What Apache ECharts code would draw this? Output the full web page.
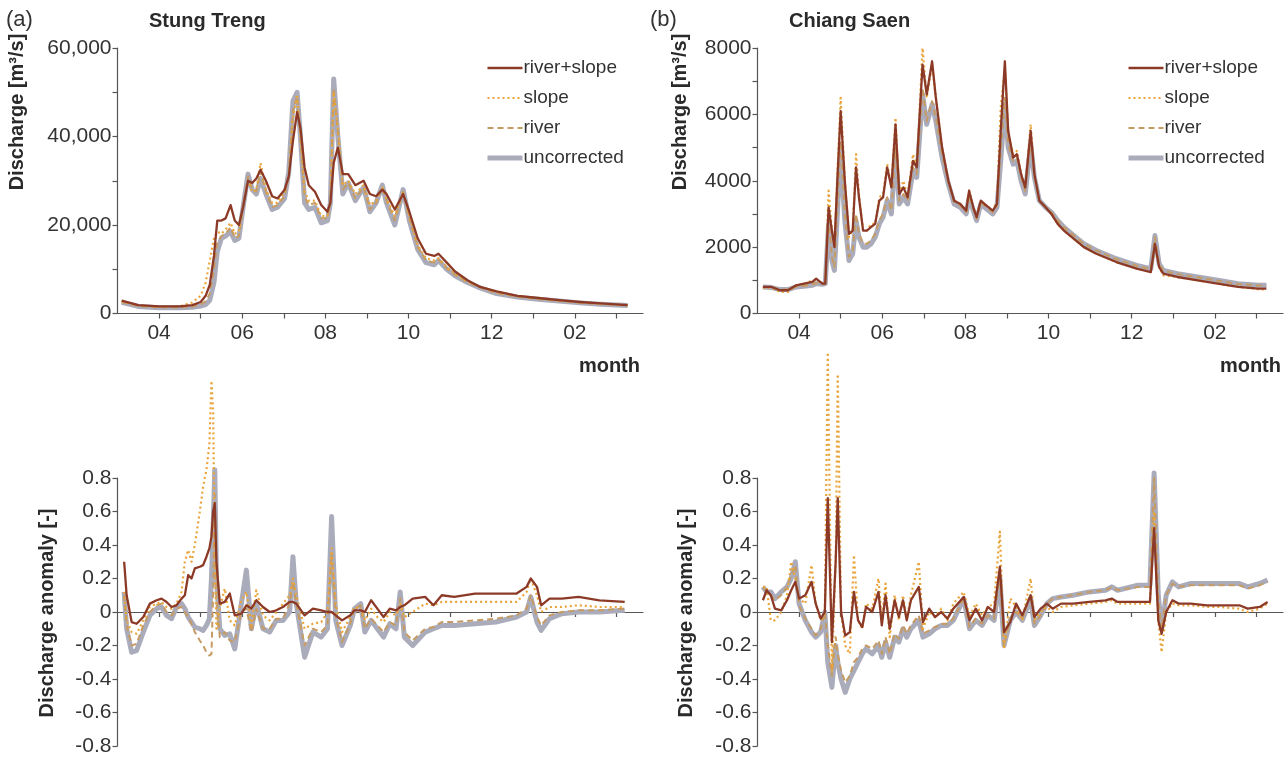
<!DOCTYPE html>
<html><head><meta charset="utf-8">
<script src="https://cdn.jsdelivr.net/npm/echarts@6/dist/echarts.min.js"></script>
<style>html,body{margin:0;padding:0;background:#fff}#c{width:1286px;height:757px}</style>
</head><body><div id="c"></div>
<script>
// ---------- DATA ----------
const seriesNames = ['river+slope', 'slope', 'river', 'uncorrected'];
const monthTickValues = [1,2,3,4,5,6,7,8,9,10,11,12];
const monthLabelValues = [1,3,5,7,9,11];
const monthLabels = ['03','04','05','06','07','08','09','10','11','12','01','02','03'];
const dischargeTicksA = [0,20000,40000,60000];
const dischargeTicksB = [0,2000,4000,6000,8000];

// (a) Stung Treng discharge, x = months since 1 March
const xA = [0.1,0.5,1.0,1.5,1.8,2.0,2.12,2.22,2.32,2.4,2.5,2.6,2.72,2.82,2.92,3.02,3.14,3.24,3.34,3.44,3.57,3.72,3.85,4.02,4.12,4.22,4.32,4.4,4.5,4.6,4.75,4.9,5.05,5.12,5.2,5.3,5.42,5.55,5.72,5.92,6.07,6.22,6.37,6.47,6.67,6.87,7.02,7.22,7.42,7.62,7.72,7.92,8.12,8.42,8.72,9.12,9.62,10.12,10.62,11.12,11.62,12.27];
const rsA = [2900,1900,1600,1600,1900,2600,4000,6500,13000,21000,21000,21500,24500,21000,20000,24000,30000,29500,30500,32500,30000,26500,26000,28000,31000,39000,45500,42000,33000,29000,27500,24500,23000,25000,34000,37500,31500,31500,29000,30000,27000,26500,28000,27000,23500,27000,23000,17000,13500,13000,13500,11500,9500,7500,6000,5000,4000,3500,3000,2600,2300,1900];
const slA = [2700,1800,1500,1600,2500,4000,7000,12000,17000,18500,18000,19000,20500,18000,18500,24500,30000,27500,28000,34000,28000,25000,25000,27500,31000,44000,49500,40000,27500,25500,25500,22000,22000,25000,50000,42000,29000,30000,27000,29000,24500,25500,28500,26000,22000,27500,22000,15500,12500,12000,12500,10500,9000,7200,6000,4800,3900,3400,2900,2500,2200,1850];
const rvA = [2600,1700,1400,1400,1600,2000,2800,4500,10000,16000,17500,18000,19500,17000,17500,24000,31000,28000,27500,32000,27500,24000,24500,26500,31500,46000,49000,40000,26500,24500,25000,21500,21500,25000,51000,41000,28000,29500,26000,28500,23500,25000,28500,25500,21000,27500,21500,15000,12000,11500,12200,10200,8700,7100,5900,4600,3800,3300,2850,2450,2150,1820];
const unA = [2500,1600,1300,1300,1400,1700,2000,3000,7000,14000,17000,17500,18500,16500,17000,24000,31500,28000,27000,30500,27000,23500,24000,26000,32000,48000,50000,40000,25000,23500,24000,20500,21000,25000,53000,40000,27000,29500,25500,28500,23000,25000,29000,25000,20000,28000,21000,14500,11500,11000,12000,10000,8500,7000,5800,4500,3700,3200,2800,2400,2100,1800];

// (b) Chiang Saen discharge
const xB = [0.13,0.34,0.54,0.73,0.93,1.12,1.32,1.41,1.56,1.63,1.71,1.79,1.85,1.92,2.0,2.1,2.2,2.29,2.37,2.44,2.54,2.63,2.73,2.83,2.93,3.02,3.12,3.22,3.32,3.41,3.51,3.61,3.74,3.83,3.97,4.07,4.2,4.29,4.44,4.59,4.73,4.88,5.02,5.09,5.19,5.27,5.37,5.46,5.56,5.66,5.76,5.85,5.95,6.03,6.15,6.24,6.34,6.44,6.57,6.66,6.78,6.93,7.07,7.22,7.37,7.56,7.85,8.15,8.63,9.12,9.46,9.56,9.66,9.76,10.1,10.59,11.07,11.56,12.05,12.24];
const rsB = [800,800,700,700,850,900,950,1050,900,900,3200,2500,2000,4000,6100,4000,2400,2500,4400,3500,2500,2500,2600,2700,3400,3500,4400,3800,5700,3600,3800,3500,4600,4400,7500,6600,7600,6500,5000,4000,3400,3300,3100,3700,3200,2900,3400,3300,3200,3100,3300,5500,7600,5500,4700,4800,4200,3800,5500,4200,3400,3200,3000,2700,2500,2300,2000,1800,1550,1350,1250,2100,1400,1200,1100,1000,900,800,750,750];
const slB = [780,780,650,650,850,880,1000,1000,900,900,3700,2500,2000,4200,6500,4000,2300,2500,4800,3600,2500,2500,2700,2700,3500,3600,4500,3800,5900,3600,4000,3500,4800,4400,8000,6500,7500,6500,5000,4000,3400,3300,3100,3700,3200,2900,3400,3300,3200,3100,3400,6200,7400,5400,4800,4900,4200,3800,5700,4200,3400,3200,3000,2700,2500,2300,2000,1800,1550,1350,1250,2000,1400,1150,1100,1000,900,800,730,720];
const rvB = [800,790,730,720,810,830,870,920,890,900,2900,1700,1400,3200,5200,3000,1700,1900,3000,2400,2100,2100,2200,2400,2800,3000,3500,3100,5000,3400,3600,3400,4400,4200,6800,5800,6400,5900,4800,3950,3350,3250,3050,3550,3150,2850,3350,3250,3150,3050,3250,4900,6500,5100,4600,4700,4100,3700,5200,4150,3400,3200,3050,2800,2600,2400,2100,1900,1640,1440,1340,2300,1480,1290,1190,1090,990,890,840,840];
const unB = [800,780,720,720,800,820,850,900,880,900,2700,1600,1300,3000,4900,2800,1600,1800,2800,2300,2000,2000,2100,2300,2700,2900,3400,3000,4900,3300,3500,3300,4300,4100,6600,5700,6300,5800,4700,3900,3300,3200,3000,3500,3100,2800,3300,3200,3100,3000,3200,4600,6300,5000,4500,4600,4000,3600,5100,4100,3400,3200,3050,2800,2600,2400,2100,1900,1650,1450,1350,2350,1500,1300,1200,1100,1000,900,850,850];

// (a) Stung Treng discharge anomaly
const xC = [0.16,0.22,0.34,0.46,0.62,0.78,0.94,1.06,1.18,1.3,1.42,1.54,1.62,1.7,1.78,1.86,1.98,2.06,2.14,2.21,2.26,2.3,2.34,2.38,2.46,2.58,2.7,2.82,2.98,3.1,3.22,3.34,3.5,3.66,3.82,3.98,4.14,4.22,4.3,4.5,4.7,4.9,5.05,5.15,5.25,5.4,5.6,5.7,5.85,5.95,6.1,6.25,6.4,6.55,6.7,6.8,6.9,7.1,7.4,7.6,7.8,8.1,8.6,9.1,9.6,9.84,9.94,10.09,10.19,10.39,10.69,11.09,11.59,12.2];
const rsC = [0.30,0.10,-0.06,-0.07,-0.03,0.05,0.07,0.08,0.06,0.03,0.04,0.08,0.10,0.22,0.20,0.26,0.27,0.28,0.33,0.38,0.45,0.60,0.65,0.30,0.05,0.06,0.11,-0.02,-0.01,0.04,0.02,0.07,0.03,0.00,0.01,0.03,0.06,0.06,0.05,-0.02,0.02,0.01,0.00,0.00,-0.02,-0.05,-0.02,0.01,0.01,0.00,0.07,0.02,-0.03,0.02,0.01,0.03,0.04,0.08,0.09,0.04,0.10,0.09,0.11,0.11,0.11,0.15,0.20,0.15,0.04,0.08,0.08,0.09,0.07,0.06];
const slC = [0.12,-0.05,-0.12,-0.13,-0.05,0.03,0.05,0.06,0.03,0.02,0.05,0.12,0.30,0.37,0.30,0.40,0.60,0.75,0.85,1.00,1.38,1.20,0.30,-0.10,0.02,0.14,-0.05,-0.08,0.07,0.12,-0.08,0.13,-0.02,-0.05,0.00,0.05,0.10,0.20,0.10,-0.10,-0.07,-0.06,0.00,0.38,0.05,-0.12,-0.03,0.03,0.02,-0.05,0.02,-0.03,-0.06,0.00,-0.02,0.05,-0.03,0.00,0.05,0.04,0.06,0.06,0.06,0.06,0.06,0.12,0.20,0.10,0.00,0.03,0.03,0.04,0.03,0.03];
const rvC = [0.10,-0.08,-0.20,-0.19,-0.08,0.00,0.04,0.05,0.00,-0.02,0.02,0.03,0.00,-0.03,-0.07,-0.12,-0.17,-0.20,-0.24,-0.26,-0.25,0.10,0.70,0.10,-0.15,-0.12,-0.17,-0.18,0.00,0.02,-0.12,0.02,-0.10,-0.10,-0.04,-0.04,0.05,0.18,0.05,-0.20,-0.10,-0.12,-0.08,0.35,-0.03,-0.18,-0.07,0.02,0.04,-0.10,-0.04,-0.08,-0.12,-0.06,-0.08,0.08,-0.12,-0.17,-0.10,-0.09,-0.06,-0.06,-0.05,-0.04,-0.02,0.02,0.10,-0.03,-0.08,-0.02,0.00,0.01,0.01,0.02];
const unC = [0.12,-0.10,-0.24,-0.23,-0.12,-0.02,0.02,0.03,-0.02,-0.04,0.03,0.05,0.02,-0.03,-0.06,-0.09,-0.10,-0.11,-0.08,-0.04,0.20,0.50,0.85,0.20,-0.10,-0.14,-0.13,-0.22,0.05,0.25,-0.10,0.05,-0.10,-0.12,-0.05,-0.05,0.00,0.33,0.05,-0.27,-0.12,-0.15,-0.10,0.57,-0.05,-0.20,-0.08,0.02,0.05,-0.12,-0.05,-0.10,-0.15,-0.07,-0.10,0.12,-0.15,-0.20,-0.12,-0.10,-0.08,-0.08,-0.07,-0.06,-0.03,0.00,0.09,-0.06,-0.11,-0.04,-0.01,0.00,0.00,0.01];

// (b) Chiang Saen discharge anomaly
const xD = [0.13,0.22,0.32,0.42,0.57,0.71,0.81,0.91,1.0,1.15,1.3,1.4,1.52,1.62,1.69,1.79,1.88,1.93,2.01,2.11,2.22,2.32,2.42,2.52,2.61,2.76,2.91,2.99,3.08,3.18,3.3,3.4,3.5,3.59,3.69,3.88,3.98,4.13,4.27,4.42,4.57,4.71,4.96,5.1,5.25,5.4,5.54,5.69,5.83,5.93,6.08,6.22,6.37,6.57,6.66,6.81,6.96,7.1,7.3,7.59,7.98,8.37,8.52,8.66,9.15,9.44,9.54,9.64,9.72,9.83,9.98,10.13,10.42,10.81,11.1,11.59,11.79,12.08,12.27];
const rsD = [0.07,0.13,0.10,0.02,0.01,0.07,0.13,0.18,0.08,0.10,0.18,0.05,-0.04,0.00,0.68,-0.18,0.30,0.68,0.00,-0.14,-0.12,0.12,-0.05,-0.09,0.03,0.00,0.12,-0.08,0.10,-0.10,0.07,-0.03,0.07,-0.05,0.07,0.15,-0.06,0.02,-0.03,0.00,-0.04,0.02,0.09,-0.05,0.02,-0.05,0.03,0.00,0.27,-0.12,-0.06,0.05,-0.02,0.10,-0.03,0.02,0.05,0.02,0.05,0.05,0.06,0.07,0.08,0.06,0.06,0.06,0.50,-0.05,-0.13,0.00,0.07,0.05,0.05,0.04,0.04,0.04,0.02,0.03,0.06];
const slD = [0.15,0.15,-0.05,-0.05,0.00,0.10,0.30,0.20,0.08,0.05,0.28,0.05,-0.05,0.00,1.55,-0.35,0.30,1.42,0.00,-0.20,-0.25,0.34,-0.05,-0.10,0.05,0.02,0.20,-0.05,0.17,-0.15,0.10,-0.05,0.10,-0.05,0.10,0.30,-0.10,0.00,-0.03,0.02,-0.05,0.05,0.12,-0.03,0.05,-0.02,0.03,0.05,0.48,-0.22,0.08,0.03,-0.05,0.20,-0.05,0.00,0.03,0.00,0.03,0.04,0.05,0.06,0.07,0.05,0.05,0.05,0.60,-0.05,-0.24,0.00,0.05,0.04,0.04,0.03,0.03,0.02,0.00,0.02,0.05];
const rvD = [0.14,0.13,0.10,0.07,0.10,0.15,0.22,0.28,0.04,-0.04,-0.10,-0.14,-0.10,0.00,-0.20,-0.38,-0.15,-0.25,-0.35,-0.42,-0.38,-0.30,-0.27,-0.22,-0.20,-0.22,-0.17,-0.25,-0.15,-0.25,-0.13,-0.16,-0.08,-0.13,-0.08,-0.02,-0.13,-0.11,-0.09,-0.07,-0.07,-0.04,0.08,-0.09,-0.04,-0.07,-0.02,-0.04,0.22,-0.20,-0.04,0.00,-0.04,0.10,-0.07,-0.02,0.05,0.08,0.09,0.10,0.12,0.13,0.15,0.13,0.15,0.15,0.80,0.08,-0.10,0.10,0.17,0.15,0.16,0.16,0.16,0.16,0.14,0.16,0.18];
const unD = [0.15,0.12,0.12,0.08,0.12,0.15,0.20,0.30,0.05,-0.05,-0.12,-0.15,-0.12,0.00,-0.30,-0.45,-0.20,-0.30,-0.40,-0.48,-0.40,-0.35,-0.30,-0.25,-0.22,-0.25,-0.20,-0.27,-0.18,-0.27,-0.15,-0.18,-0.10,-0.15,-0.10,-0.05,-0.15,-0.13,-0.10,-0.08,-0.08,-0.05,0.08,-0.10,-0.05,-0.08,-0.02,-0.05,0.20,-0.20,-0.05,0.00,-0.05,0.08,-0.08,-0.02,0.05,0.08,0.09,0.10,0.12,0.13,0.15,0.13,0.16,0.16,0.83,0.10,-0.10,0.10,0.18,0.15,0.17,0.17,0.17,0.17,0.15,0.17,0.19];

// ---------- CHART ----------
const FONT = '"Liberation Sans", Arial, Helvetica, sans-serif';
const TXT = '#2a2a2a';
const AX = '#555';
const styles = {
  'river+slope': {color:'#8C3A27', width:2.3, type:'solid'},
  'slope': {color:'#E9A43A', width:2.2, type:[2,3]},
  'river': {color:'#C69B63', width:2, type:[6,4]},
  'uncorrected': {color:'#AAACBB', width:5, type:'solid'}
};
const zip = (xs, ys) => xs.map((x, i) => [x, ys[i]]);
const panels = [
  {x:xA, d:{'river+slope':rsA, 'slope':slA, 'river':rvA, 'uncorrected':unA}},
  {x:xB, d:{'river+slope':rsB, 'slope':slB, 'river':rvB, 'uncorrected':unB}},
  {x:xC, d:{'river+slope':rsC, 'slope':slC, 'river':rvC, 'uncorrected':unC}},
  {x:xD, d:{'river+slope':rsD, 'slope':slD, 'river':rvD, 'uncorrected':unD}}
];
const drawOrder = ['uncorrected','river','slope','river+slope'];
const series = [];
panels.forEach((p, gi) => {
  drawOrder.forEach(name => {
    const s = styles[name];
    series.push({
      name, type:'line', xAxisIndex:gi, yAxisIndex:gi,
      data: zip(p.x, p.d[name]), symbol:'none', showSymbol:false, clip:false,
      lineStyle:{color:s.color, width:s.width, type:s.type, cap:'butt', join:'round'},
      itemStyle:{color:s.color}, animation:false, silent:true
    });
  });
});

const GW = 525.5;
const grids = [
  {left:117.5, top:48, width:GW, height:265.5},
  {left:757.5, top:48, width:GW, height:265.5},
  {left:117.5, top:478, width:GW, height:268},
  {left:757.5, top:478, width:GW, height:268}
].map(g => Object.assign({containLabel:false, outerBoundsMode:'none'}, g));

function xAxis(gi, showLabels){
  return {
    gridIndex:gi, type:'value', min:0, max:12.64, interval:1,
    splitLine:{show:false},
    axisLine:{show:true, onZero:true, lineStyle:{color:AX, width:1.2}},
    axisTick:{show:true, length:5, customValues:monthTickValues, lineStyle:{color:AX, width:1.2}},
    axisLabel:{show:showLabels, customValues:monthLabelValues, margin:9,
      fontFamily:FONT, fontSize:21, color:'#333',
      formatter: v => monthLabels[Math.round(v)] || ''}
  };
}
function yAxis(gi, min, max, interval, fmt){
  return {
    gridIndex:gi, type:'value', min, max, interval,
    splitLine:{show:false},
    axisLine:{show:true, onZero:false, lineStyle:{color:AX, width:1.2}},
    axisTick:{show:true, length:5, lineStyle:{color:AX, width:1.2}},
    axisLabel:{show:true, margin:6, fontFamily:FONT, fontSize:21, color:'#333', formatter:fmt}
  };
}
const fmtA = v => dischargeTicksA.includes(v) ? v.toLocaleString('en-US') : '';
const fmtB = v => dischargeTicksB.includes(v) ? String(v) : '';
const fmtAn = v => { const r = Math.round(v*10)/10; return Math.abs(r) < 1e-9 ? '0' : String(r); };

function legend(left){
  return {
    data: seriesNames.map(n => ({name:n, lineStyle:{width:styles[n].width, type:styles[n].type, color:styles[n].color}})),
    orient:'vertical', left, top:53,
    itemWidth:35, itemHeight:14, itemGap:10, selectedMode:false,
    itemStyle:{opacity:0, color:'rgba(0,0,0,0)', borderWidth:0},
    textStyle:{fontFamily:FONT, fontSize:19, color:'#333', lineHeight:20, padding:[0,0,0,-4]}
  };
}
function t(text, x, y, opts){
  return Object.assign({type:'text', x, y, silent:true,
    style:Object.assign({text, fill:TXT, font:'bold 20px ' + FONT, align:'left', verticalAlign:'middle'}, (opts||{}).style||{})},
    opts && opts.rotation ? {rotation:opts.rotation} : {});
}
const graphic = [
  t('(a)', 6, 20, {style:{font:'22px ' + FONT, fill:'#333'}}),
  t('Stung Treng', 149, 21),
  t('(b)', 650, 20, {style:{font:'22px ' + FONT, fill:'#333'}}),
  t('Chiang Saen', 789, 21),
  t('Discharge [m³/s]', 17, 112, {rotation:Math.PI/2, style:{align:'center'}}),
  t('Discharge [m³/s]', 680, 112, {rotation:Math.PI/2, style:{align:'center'}}),
  t('Discharge anomaly [-]', 47, 613, {rotation:Math.PI/2, style:{align:'center'}}),
  t('Discharge anomaly [-]', 686, 613, {rotation:Math.PI/2, style:{align:'center'}}),
  t('month', 640, 366, {style:{align:'right'}}),
  t('month', 1281, 366, {style:{align:'right'}})
];

const chart = echarts.init(document.getElementById('c'), null, {renderer:'canvas'});
chart.setOption({
  backgroundColor:'#ffffff',
  animation:false,
  grid: grids,
  xAxis: [xAxis(0,true), xAxis(1,true), xAxis(2,false), xAxis(3,false)],
  yAxis: [yAxis(0,0,60000,10000,fmtA), yAxis(1,0,8000,1000,fmtB),
          yAxis(2,-0.8,0.8,0.2,fmtAn), yAxis(3,-0.8,0.8,0.2,fmtAn)],
  legend: [legend(480), legend(1121)],
  graphic,
  series
});
</script>
</body></html>
